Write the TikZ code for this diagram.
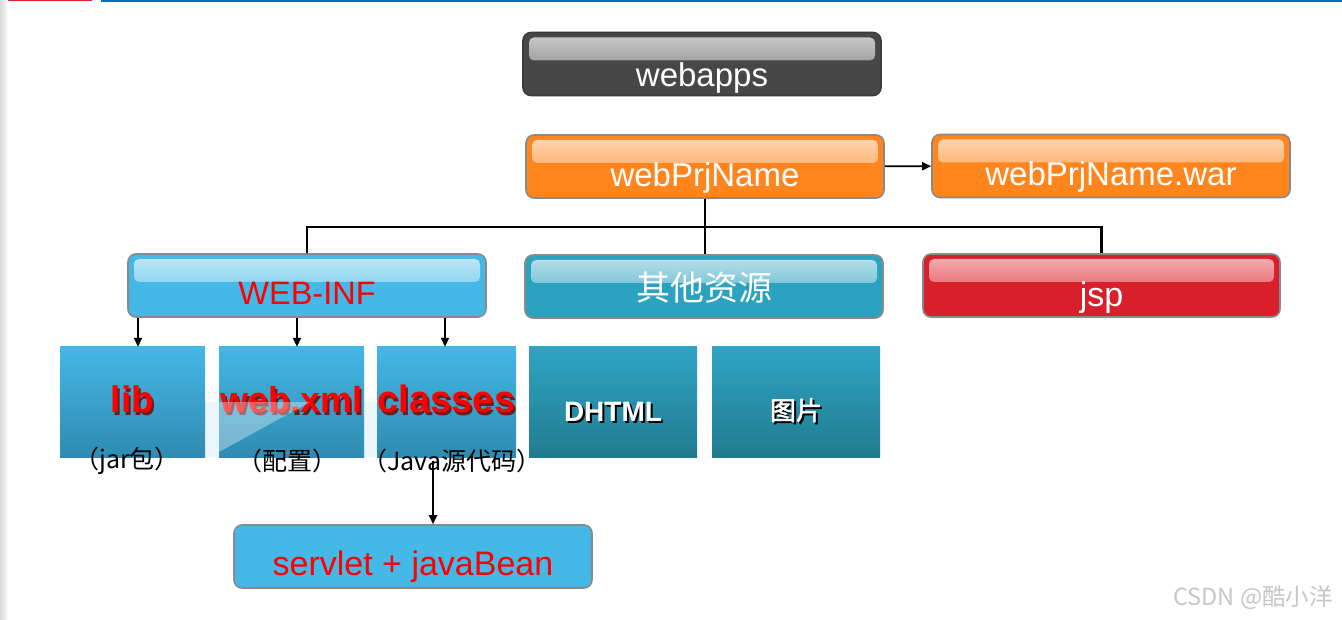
\documentclass[tikz,border=0pt]{standalone}
\usepackage{fontspec}
\setmainfont{Liberation Sans}
\newfontfamily\cjk{Noto Sans CJK SC}
\newfontfamily\cjkb[FakeBold=2]{Noto Sans CJK SC}
\usetikzlibrary{positioning,arrows.meta,calc}

\definecolor{appsgray}{HTML}{474747}
\definecolor{appsglossA}{HTML}{CFCFCF}
\definecolor{appsglossB}{HTML}{6A6A6A}
\definecolor{prjorange}{HTML}{FF851C}
\definecolor{prjglossA}{HTML}{FFD8B8}
\definecolor{prjglossB}{HTML}{FF9030}
\definecolor{skyblue}{HTML}{44B8E6}
\definecolor{skyglossA}{HTML}{C6EAF8}
\definecolor{skyglossB}{HTML}{4CBCE8}
\definecolor{tealblue}{HTML}{2CA2C1}
\definecolor{tealglossA}{HTML}{BEE3EC}
\definecolor{tealglossB}{HTML}{33A5C3}
\definecolor{jspred}{HTML}{D91F29}
\definecolor{jspglossA}{HTML}{F4B6B9}
\definecolor{jspglossB}{HTML}{DB2A33}
\definecolor{boxline}{HTML}{8A8A8A}
\definecolor{labelred}{HTML}{FF0000}
\definecolor{redshadow}{HTML}{6B1E1E}
\definecolor{sqblueA}{HTML}{44B7E6}
\definecolor{sqblueB}{HTML}{2F8BB1}
\definecolor{sqtealA}{HTML}{2EA4C3}
\definecolor{sqtealB}{HTML}{217B91}
\definecolor{paleblue}{HTML}{EAF6FC}
\definecolor{topred}{HTML}{E4232B}
\definecolor{topblue}{HTML}{0070C0}

\newcommand{\fsz}[1]{\fontsize{#1}{#1}\selectfont}
\newcommand{\shtxt}[2]{\rlap{\hspace{2pt}\raisebox{-2pt}{\color{#1}#2}}#2}

\begin{document}
\begin{tikzpicture}[
    x=1pt, y=-1pt,
    >={Triangle[length=9pt,width=8pt]},
    gbox/.style n args={3}{rounded corners=8pt, draw=boxline, line width=1.6pt, fill=#1,
        minimum width=358pt, minimum height=63pt, inner sep=0pt, text depth=0pt,
        path picture={\fill[rounded corners=5pt, top color=#2, bottom color=#3]
            ([shift={(6pt,-5pt)}]path picture bounding box.north west) rectangle
            ([shift={(-6pt,-28pt)}]path picture bounding box.north east);}},
    flatbox/.style={rounded corners=8pt, draw=boxline, line width=1.6pt,
        minimum width=358pt, minimum height=63pt, inner sep=0pt, text depth=0pt},
    sqblue/.style={minimum width=145pt, minimum height=110pt, inner sep=0pt, text depth=0pt,
        top color=sqblueA, bottom color=sqblueB},
    sqteal/.style={minimum width=168pt, minimum height=110pt, inner sep=0pt, text depth=0pt,
        top color=sqtealA, bottom color=sqtealB},
    conn/.style={line width=2.6pt},
    arr/.style={->, line width=1.8pt},
]

\useasboundingbox (0,0) rectangle (1342,620);

% Page edge: left shadow and top rules
\shade[left color=gray!28, right color=gray!8] (0,0) rectangle (7,620);
\fill[topred] (8,0) rectangle (92,1.5);
\fill[topblue] (101,0) rectangle (1342,2);

% Row 0: webapps
\node[gbox={appsgray}{appsglossA}{appsglossB}, draw=appsgray!85!black, text=white,
      text height=46pt] (apps) at (702,64) {\fsz{33}webapps};

% Row 1: project and war
\node[gbox={prjorange}{prjglossA}{prjglossB}, text=white, text height=40pt]
      (prj) at (705,166.5) {\fsz{33}webPrjName};
\node[gbox={prjorange}{prjglossA}{prjglossB}, text=white, text height=40pt]
      (war) at (1111,166) {\fsz{33}webPrjName.war};
\draw[arr] (prj) -- (war);

% Row 2: WEB-INF, other resources, jsp
\node[gbox={skyblue}{skyglossA}{skyglossB}, text=labelred, text height=39pt]
      (webinf) at (307,285.5) {\fsz{32.5}WEB-INF};
\node[gbox={tealblue}{tealglossA}{tealglossB}, text=white, text height=29pt]
      (other) at (704,286.5) {\cjk\fsz{34}其他资源};
\node[gbox={jspred}{jspglossA}{jspglossB}, minimum width=357pt, text=white, text height=43pt]
      (jsp) at (1101.5,285.5) {\fsz{34}jsp};

% Tree from project down to row 2
\coordinate (bus) at (705,227);
\draw[conn] (prj.south) -- (prj.south |- other.north);
\draw[conn] (webinf.north) |- (bus) -| (jsp.north);

% Row 3: contents of WEB-INF and other resources
\fill[paleblue] (205,402) rectangle (377,457);
\node[sqblue, text=labelred, text height=22pt] (lib) at (132.5,402)
      {\fsz{37}\bfseries\shtxt{redshadow}{lib}};
\node[sqblue, text=labelred, text height=22pt] (webxml) at (291.5,402)
      {\fsz{36}\bfseries\shtxt{redshadow}{web.xml}};
\node[sqblue, minimum width=139pt, text=labelred, text height=22pt] (classes) at (446.5,402)
      {\fsz{38}\bfseries\shtxt{redshadow}{classes}};
\node[sqteal, text=white, text height=38pt] (dhtml) at (613,402)
      {\fsz{28}\bfseries\shtxt{black}{DHTML}};
\node[sqteal, text=white, text height=36pt] (pics) at (796,402)
      {\cjkb\fsz{26}\shtxt{black}{图片}};
\fill[white, opacity=0.35] (219,402) -- (310,402) -- (219,452) -- cycle;

\draw[arr] ([xshift=5.5pt]lib.north |- webinf.south) -- ([xshift=5.5pt]lib.north);
\draw[arr] ([xshift=5.5pt]webxml.north |- webinf.south) -- ([xshift=5.5pt]webxml.north);
\draw[arr] ([xshift=-1.5pt]classes.north |- webinf.south) -- ([xshift=-1.5pt]classes.north);

% Captions under the squares
\node[font={\cjk\fsz{25}}] (jarcap) at (127,461) {（jar包）};
\node[font={\cjk\fsz{25}}] (cfgcap) at (287,461) {（配置）};
\node[font={\cjk\fsz{25}}] (javacap) at (452,461) {（Java源代码）};

% Row 4: servlet + javaBean
\node[flatbox, fill=skyblue, text=labelred, text height=37pt]
      (servlet) at (413,556.5) {\fsz{34}servlet + javaBean};
\draw[arr] ([xshift=-19pt]javacap.center) -- ([xshift=20pt]servlet.north);

% Watermark
\node[font={\cjk\fsz{23.5}}, text=gray!45] (mark) at (1253,598) {CSDN @酷小洋};

\end{tikzpicture}
\end{document}
